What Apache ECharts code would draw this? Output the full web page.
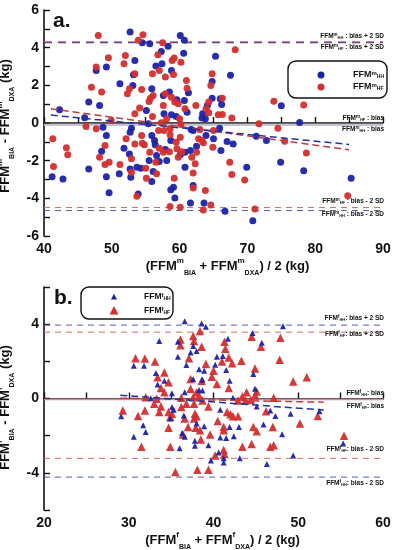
<!DOCTYPE html>
<html><head><meta charset="utf-8">
<script src="https://cdn.jsdelivr.net/npm/echarts@6/dist/echarts.min.js"></script>
<style>html,body{margin:0;padding:0;background:#fff}#c{width:393px;height:550px}</style>
</head><body><div id="c"></div>
<script>
// ---------- Panel a (men): FFM differences vs mean, two BIA methods ----------
const maleHH = [[52.7,4.83],[54.5,4.26],[55.6,4.21],[60.1,4.65],[60.7,4.4],[65.3,3.55],[53.4,3.32],[57.3,3.8],[58.3,4.07],[60.6,3.71],[57.4,3.15],[56.5,3.02],[58.8,2.79],[53.2,2.56],[67.5,2.53],[64.8,2.21],[61.3,1.6],[51.2,2.08],[53.1,1.99],[55.9,1.82],[58.5,1.64],[57.6,1.46],[59.6,1.23],[60.7,1.2],[64.8,1.32],[64.1,0.93],[66.0,1.29],[66.2,0.98],[63.4,0.49],[63.3,0.26],[63.8,0.22],[61.1,0.57],[55.1,0.66],[57.7,0.49],[58.8,0.44],[59.5,0.35],[55.4,-0.04],[65.9,-0.28],[61.7,-0.35],[62.0,-0.4],[52.9,-0.28],[52.7,-0.49],[55.9,-0.66],[58.7,-0.93],[63.9,-0.66],[65.0,-0.84],[67.0,-0.98],[67.9,-1.11],[71.3,-0.7],[72.8,-0.93],[51.8,-1.34],[56.3,-0.93],[56.4,-1.16],[57.9,-1.41],[60.8,-1.55],[61.6,-1.46],[62.5,-1.23],[66.1,-1.46],[52.6,-1.64],[56.6,-1.73],[55.5,-1.99],[57.0,-2.05],[58.1,-1.99],[60.1,-1.69],[53.7,-2.35],[54.3,-2.4],[52.7,-2.44],[52.8,-2.88],[55.9,-3.11],[56.1,-2.58],[60.8,-2.35],[62.0,-3.32],[59.1,-3.41],[58.7,-3.55],[59.3,-3.98],[53.9,-3.77],[69.9,-2.35],[61.6,-4.25],[63.6,-4.25],[66.7,-4.69],[70.8,-5.19],[47.7,2.79],[49.2,2.97],[46.6,1.11],[48.2,0.93],[42.3,0.7],[46.0,0.28],[48.7,-0.22],[49.2,-0.66],[41.2,-2.85],[42.8,-2.97],[46.6,-2.44],[48.5,-1.5],[49.2,-2.85],[49.6,-3.71],[51.1,-2.7],[75.0,0.91],[77.7,0.03],[74.9,-2.08],[78.3,-2.54],[85.3,-2.94]];
const maleHF = [[54.6,4.69],[53.9,4.39],[57.5,4.26],[68.2,3.89],[52.0,3.59],[51.8,3.15],[56.8,3.63],[59.2,3.45],[58.9,3.32],[60.2,3.23],[57.0,2.79],[59.1,2.58],[56.0,2.62],[53.4,2.62],[57.9,2.44],[64.8,2.62],[64.6,1.99],[61.0,2.26],[61.1,1.85],[52.6,1.82],[54.4,1.78],[52.3,1.55],[56.1,1.46],[55.7,1.32],[55.5,1.14],[57.9,1.55],[58.8,1.37],[59.3,1.11],[59.8,1.02],[57.6,0.93],[62.4,0.93],[64.3,1.11],[63.9,0.76],[66.3,1.32],[65.7,0.44],[66.3,0.45],[67.7,0.26],[64.3,0.54],[60.8,0.76],[54.1,0.79],[53.4,0.49],[56.0,0.35],[60.0,0.22],[58.1,0.22],[57.3,0.01],[60.2,-0.08],[71.7,-0.04],[65.0,-0.4],[63.0,-0.35],[58.6,-0.31],[56.9,-0.4],[57.7,-0.4],[54.4,-0.66],[58.6,-0.63],[60.1,-0.75],[62.8,-0.84],[63.3,-0.93],[63.5,-1.05],[52.1,-0.84],[53.4,-1.11],[54.5,-1.07],[54.8,-1.16],[57.0,-1.34],[57.6,-1.55],[58.5,-1.52],[59.5,-1.02],[59.6,-1.37],[60.3,-1.52],[62.5,-1.55],[64.9,-1.29],[55.6,-1.55],[52.9,-1.9],[56.5,-2.08],[59.8,-1.82],[61.8,-1.82],[62.3,-2.17],[51.2,-2.21],[55.0,-2.4],[52.9,-2.62],[55.1,-2.94],[56.6,-2.7],[62.0,-2.65],[59.2,-2.94],[62.0,-3.45],[63.8,-3.59],[53.7,-3.89],[67.4,-2.08],[67.7,-2.74],[69.6,-3.02],[58.6,-4.44],[60.1,-4.48],[64.6,-4.35],[63.5,-4.62],[71.1,-4.56],[48.0,4.65],[47.7,2.97],[49.5,3.47],[47.0,1.9],[48.5,1.64],[46.2,-0.19],[47.7,-0.31],[49.9,0.13],[41.3,-0.84],[41.4,-2.31],[43.3,-1.32],[43.5,-1.68],[48.2,-1.82],[49.0,-1.2],[49.0,-2.21],[49.6,-2.08],[73.9,1.16],[78.3,0.95],[74.5,-0.28],[75.5,-0.97],[78.7,-1.59],[84.8,-3.86]];
// ---------- Panel b (women) ----------
const femaleHH = [[36.6,4.16],[38.6,4.04],[39.1,3.86],[48.2,3.89],[44.6,3.52],[33.6,3.09],[35.8,3.06],[37.6,2.83],[41.7,3.22],[45.7,3.0],[37.3,2.47],[38.0,2.56],[40.4,2.24],[41.1,2.29],[35.8,2.24],[31.8,1.76],[36.8,1.8],[40.2,1.81],[44.7,1.32],[38.3,1.58],[38.9,1.49],[41.5,1.53],[33.2,1.37],[34.2,0.96],[37.6,1.05],[38.7,1.01],[41.9,0.96],[33.4,0.75],[35.1,0.28],[36.6,0.34],[38.3,0.46],[38.7,0.43],[44.9,0.52],[42.3,0.04],[32.6,0.02],[35.1,-0.46],[35.3,-0.6],[36.5,-0.91],[34.9,-1.08],[40.8,-0.6],[46.7,-0.64],[47.3,-0.94],[49.1,-0.82],[45.1,-0.43],[45.9,-1.4],[41.9,-1.53],[43.0,-1.53],[38.9,-1.49],[38.0,-1.35],[36.3,-1.85],[36.6,-2.06],[40.8,-2.1],[41.5,-2.12],[42.4,-2.03],[37.8,-2.28],[39.4,-2.51],[37.8,-2.54],[48.1,-1.92],[36.0,-2.68],[40.6,-2.9],[41.2,-3.22],[41.2,-3.45],[39.7,-3.34],[43.1,-3.22],[49.4,-3.07],[46.3,-3.52],[31.7,-1.44],[32.0,-1.8],[30.6,1.76],[29.1,-0.96],[30.6,-2.06],[55.3,-2.42],[52.5,-0.69]];
const femaleHF = [[38.4,3.63],[44.5,3.32],[47.9,3.27],[36.1,3.18],[36.1,2.86],[37.6,3.36],[37.7,3.09],[38.6,2.79],[41.3,3.06],[41.4,2.68],[45.6,2.79],[41.8,2.2],[41.0,1.99],[42.2,1.9],[43.3,2.03],[47.8,2.08],[37.1,2.17],[31.9,2.15],[33.1,1.99],[39.1,1.85],[44.9,1.62],[40.0,1.49],[39.8,1.17],[34.2,1.4],[33.4,1.14],[34.7,0.87],[37.3,1.05],[38.6,0.96],[40.4,0.78],[41.8,0.57],[49.4,0.91],[51.0,1.14],[33.8,0.57],[34.2,0.34],[37.3,0.52],[38.0,0.34],[38.3,0.16],[43.9,0.34],[45.1,0.37],[44.9,0.16],[43.4,0.11],[47.1,0.04],[32.0,0.07],[33.3,-0.02],[36.2,0.04],[37.6,0.07],[38.7,-0.11],[43.8,-0.11],[44.4,-0.07],[42.9,-0.11],[33.0,-0.28],[33.8,-0.43],[31.9,-0.64],[33.6,-0.73],[34.7,-0.73],[35.1,-0.82],[34.9,-1.0],[36.2,-0.46],[36.8,-0.28],[37.7,-0.28],[39.4,-0.43],[37.8,-0.82],[38.0,-0.96],[37.7,-1.08],[36.6,-1.08],[34.7,-1.58],[41.6,-0.73],[42.0,-0.85],[42.3,-0.96],[42.9,-0.96],[40.5,-1.21],[46.2,-0.69],[52.3,-0.94],[50.2,-1.35],[47.0,-1.53],[44.7,-1.53],[45.1,-1.76],[41.2,-1.53],[41.2,-1.71],[37.0,-1.53],[37.9,-1.58],[38.4,-1.71],[36.4,-1.94],[39.6,-1.94],[38.5,-2.2],[46.7,-2.6],[47.1,-2.51],[44.5,-2.45],[43.4,-2.6],[34.9,-2.6],[40.2,-3.07],[41.2,-2.77],[41.3,-2.99],[35.5,-3.96],[38.1,-3.84],[39.4,-3.84],[31.5,-2.6],[30.8,2.17],[29.3,-0.64],[31.1,-0.94],[55.4,-2.01]];

// reference levels (bias + 2SD, bias, bias - 2SD)
const maleLevelsHH = [4.27, -0.1, -4.65];
const maleLevelsHF = [4.31, -0.1, -4.49];
const femaleLevelsHH = [3.95, -0.05, -4.23];
const femaleLevelsHF = [3.57, -0.05, -3.22];
// regression lines (endpoints)
const maleRegHH = [[41, 0.42], [85, -1.14]];
const maleRegHF = [[41, 0.76], [85, -1.42]];
const femaleRegHH = [[29, 0.18], [53, -0.62]];
const femaleRegHF = [[29, 0.02], [53, -0.2]];
// axes
const xRangeA = [40, 90], xRangeB = [20, 60], yRange = [-6, 6];

const FONT = 'Liberation Sans, Arial, sans-serif';
const BLUE = '#1c22a6', RED = '#d22f2e';
const chart = echarts.init(document.getElementById('c'), null, {renderer: 'canvas'});

const richAxis = {
  sup: {fontSize: 8, fontWeight: 'bold', fontFamily: FONT, verticalAlign: 'top', color: '#111'},
  sub: {fontSize: 7, fontWeight: 'bold', fontFamily: FONT, verticalAlign: 'bottom', color: '#111'}
};
const richSmall = {
  sup: {fontSize: 4.5, fontWeight: 'bold', fontFamily: FONT, verticalAlign: 'top', color: '#111'},
  sub: {fontSize: 4, fontWeight: 'bold', fontFamily: FONT, verticalAlign: 'bottom', color: '#111'}
};
const richLeg = {
  sup: {fontSize: 6, fontWeight: 'bold', fontFamily: FONT, verticalAlign: 'top', color: '#111'},
  sub: {fontSize: 5, fontWeight: 'bold', fontFamily: FONT, verticalAlign: 'bottom', color: '#111'}
};

function xAxis(idx, range, name, gap, shift) {
  return {
    type: 'value', gridIndex: idx, min: range[0], max: range[1], interval: 5,
    name: name, nameLocation: 'middle', nameGap: gap,
    nameTextStyle: {fontSize: 13, fontWeight: 'bold', fontFamily: FONT, color: '#111', lineHeight: 20, rich: richAxis, padding: [0, 0, 0, shift]},
    axisLine: {lineStyle: {color: '#111', width: 1.6}},
    axisTick: {inside: true, length: 6, lineStyle: {color: '#111', width: 1.4}},
    axisLabel: {margin: 6, fontSize: 14, fontWeight: 'bold', fontFamily: FONT, color: '#111',
      formatter: v => (v % 10 === 0 ? String(v) : '')},
    splitLine: {show: false}
  };
}
function yAxis(idx, interval, labelStep, name, shift) {
  return {
    type: 'value', gridIndex: idx, min: yRange[0], max: yRange[1], interval: interval,
    name: name, nameLocation: 'middle', nameGap: 19,
    nameTextStyle: {fontSize: 13, fontWeight: 'bold', fontFamily: FONT, color: '#111', lineHeight: 20, rich: richAxis, padding: [0, shift, 0, 0]},
    axisLine: {lineStyle: {color: '#111', width: 1.6}},
    axisTick: {inside: true, length: 6, lineStyle: {color: '#111', width: 1.4}},
    axisLabel: {margin: 5, fontSize: 14, fontWeight: 'bold', fontFamily: FONT, color: '#111',
      formatter: v => (Math.round(v) % labelStep === 0 ? String(v) : '')},
    splitLine: {show: false}
  };
}
function hLine(idx, range, y, color, width, type) {
  return {type: 'line', xAxisIndex: idx, yAxisIndex: idx, silent: true, showSymbol: false, symbol: 'none',
    data: [[range[0], y], [range[1], y]], lineStyle: {color: color, width: width, type: type}, z: 1};
}
function regLine(idx, pts, color) {
  return {type: 'line', xAxisIndex: idx, yAxisIndex: idx, silent: true, showSymbol: false, symbol: 'none',
    data: pts, lineStyle: {color: color, width: 1.5, type: [7, 4]}, z: 3};
}
function scatter(idx, data, color, symbol, size) {
  return {type: 'scatter', xAxisIndex: idx, yAxisIndex: idx, data: data, symbol: symbol, symbolSize: size,
    itemStyle: {color: color, opacity: 0.95}, z: 2};
}

const series = [
  hLine(0, xRangeA, maleLevelsHH[0], '#4a3f9a', 1.3, [8, 6]),
  hLine(0, xRangeA, maleLevelsHF[0], '#b0506a', 1.0, [8, 6]),
  hLine(0, xRangeA, maleLevelsHH[1], '#c4c3d6', 2.2, 'solid'),
  hLine(0, xRangeA, maleLevelsHF[2], '#d06868', 1.0, [6, 5]),
  hLine(0, xRangeA, maleLevelsHH[2], '#4f5cb0', 1.0, [6, 5]),
  scatter(0, maleHH, BLUE, 'circle', 7),
  scatter(0, maleHF, RED, 'circle', 7),
  regLine(0, maleRegHF, '#c23a3e'),
  regLine(0, maleRegHH, '#2631a0'),

  hLine(1, xRangeB, femaleLevelsHH[0], '#4f5cb0', 1.0, [6, 5]),
  hLine(1, xRangeB, femaleLevelsHF[0], '#d06868', 1.0, [6, 5]),
  hLine(1, xRangeB, femaleLevelsHH[1], '#c98aaa', 1.4, 'solid'),
  hLine(1, xRangeB, femaleLevelsHF[2], '#d06868', 1.0, [6, 5]),
  hLine(1, xRangeB, femaleLevelsHH[2], '#4f5cb0', 1.0, [6, 5]),
  scatter(1, femaleHF, RED, 'triangle', 8.5),
  scatter(1, femaleHH, BLUE, 'triangle', 6),
  regLine(1, femaleRegHF, '#c23a3e'),
  regLine(1, femaleRegHH, '#2631a0')
];

function txt(x, y, text, size, rich, align) {
  return {type: 'text', x: x, y: y, z: 50,
    style: {text: text, fill: '#111', fontSize: size, fontWeight: 'bold', fontFamily: FONT,
      rich: rich, align: align || 'left', textAlign: align || 'left', verticalAlign: 'middle', textVerticalAlign: 'middle'}};
}
function tri(cx, cy, s, color) {
  return {type: 'polygon', z: 50, shape: {points: [[cx, cy - s * 0.55], [cx + s * 0.5, cy + s * 0.4], [cx - s * 0.5, cy + s * 0.4]]}, style: {fill: color}};
}

const graphic = [
  txt(53, 21, 'a.', 21),
  txt(54, 298, 'b.', 21),
  // annotation labels, panel a
  txt(384, 36, 'FFM{sup|m}{sub|HH} : bias + 2 SD', 6.5, richSmall, 'right'),
  txt(384, 47, 'FFM{sup|m}{sub|HF} : bias + 2 SD', 6.5, richSmall, 'right'),
  txt(384, 118, 'FFM{sup|m}{sub|HF} : bias', 6.5, richSmall, 'right'),
  txt(384, 129, 'FFM{sup|m}{sub|HH} : bias', 6.5, richSmall, 'right'),
  txt(384, 201, 'FFM{sup|m}{sub|HF} : bias - 2 SD', 6.5, richSmall, 'right'),
  txt(384, 214, 'FFM{sup|m}{sub|HH} : bias - 2 SD', 6.5, richSmall, 'right'),
  // annotation labels, panel b
  txt(384, 318, 'FFM{sup|f}{sub|HH}: bias + 2 SD', 6.5, richSmall, 'right'),
  txt(384, 334, 'FFM{sup|f}{sub|HF}: bias + 2 SD', 6.5, richSmall, 'right'),
  txt(384, 393, 'FFM{sup|f}{sub|HH}: bias', 6.5, richSmall, 'right'),
  txt(384, 406, 'FFM{sup|f}{sub|HF}: bias', 6.5, richSmall, 'right'),
  txt(384, 449, 'FFM{sup|f}{sub|HF}: bias - 2 SD', 6.5, richSmall, 'right'),
  txt(384, 483, 'FFM{sup|f}{sub|HH}: bias - 2 SD', 6.5, richSmall, 'right'),
  // legend a
  {type: 'rect', z: 49, shape: {x: 288, y: 61, width: 99, height: 37, r: 8}, style: {fill: '#fff', stroke: '#111', lineWidth: 1.4}},
  {type: 'circle', z: 50, shape: {cx: 321, cy: 75, r: 3.5}, style: {fill: BLUE}},
  {type: 'circle', z: 50, shape: {cx: 321, cy: 87, r: 3.5}, style: {fill: RED}},
  txt(353, 75, 'FFM{sup|m}{sub|HH}', 9, richLeg),
  txt(353, 87, 'FFM{sup|m}{sub|HF}', 9, richLeg),
  // legend b
  {type: 'rect', z: 49, shape: {x: 81, y: 287, width: 92, height: 32, r: 8}, style: {fill: '#fff', stroke: '#111', lineWidth: 1.4}},
  tri(114, 297, 6, BLUE),
  tri(114, 311, 9, RED),
  txt(144, 297, 'FFM{sup|f}{sub|HH}', 8.5, richLeg),
  txt(144, 311, 'FFM{sup|f}{sub|HF}', 8.5, richLeg)
];

chart.setOption({
  animation: false,
  backgroundColor: '#fff',
  grid: [
    {left: 44, top: 10, width: 339, height: 226, containLabel: false, outerBoundsMode: 'none'},
    {left: 44, top: 287, width: 339, height: 223, containLabel: false, outerBoundsMode: 'none'}
  ],
  xAxis: [
    xAxis(0, xRangeA, '(FFM{sup|m}{sub|BIA} + FFM{sup|m}{sub|DXA}) / 2 (kg)', 19, 28),
    xAxis(1, xRangeB, '(FFM{sup|f}{sub|BIA} + FFM{sup|f}{sub|DXA}) / 2 (kg)', 18, 18)
  ],
  yAxis: [
    yAxis(0, 1, 2, 'FFM{sup|m}{sub|BIA} - FFM{sup|m}{sub|DXA} (kg)', 6),
    yAxis(1, 2, 4, 'FFM{sup|f}{sub|BIA} - FFM{sup|f}{sub|DXA} (kg)', 18)
  ],
  series: series,
  graphic: graphic
});
</script>
</body></html>
